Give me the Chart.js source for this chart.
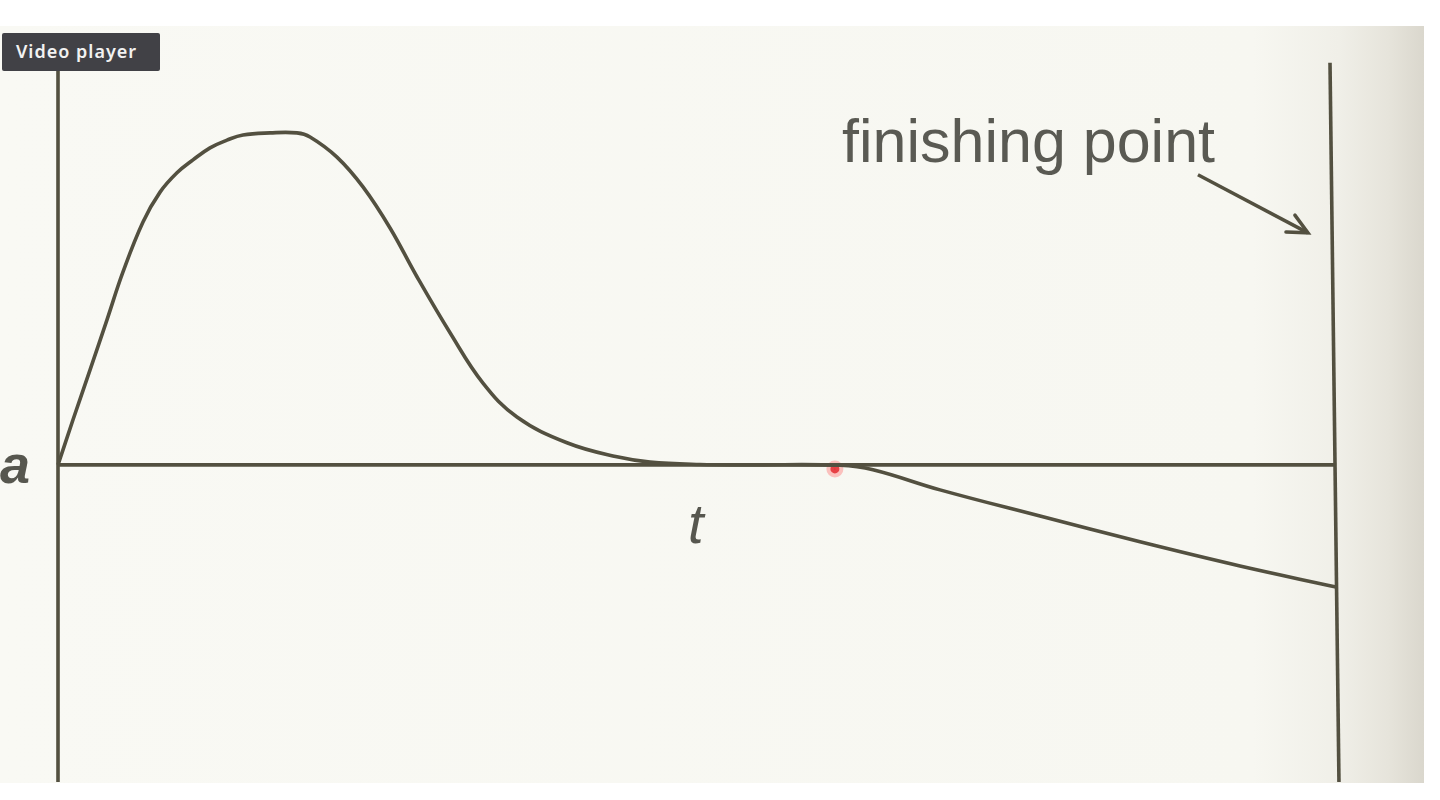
<!DOCTYPE html>
<html><head><meta charset="utf-8">
<script src="https://cdn.jsdelivr.net/npm/chart.js@4"></script>
<style>
html,body{margin:0;padding:0;background:#fff;width:1440px;height:800px;overflow:hidden}
#paper{position:absolute;left:0;top:26px;width:1424px;height:757px;background:linear-gradient(to right,#f9f9f4 0%,#f7f7f1 88%,#f0efe8 94%,#e6e4db 97.5%,#dad7cd 100%)}
#c{position:absolute;left:0;top:0}
#vp{position:absolute;left:2px;top:33px;width:158px;height:38px;background:#414146;color:#f2f2f2;font:600 18px "Noto Sans";letter-spacing:1px;line-height:36px;padding-left:14px;box-sizing:border-box;border-radius:2px}
</style></head><body>
<div id="paper"></div>
<canvas id="c" width="1440" height="800"></canvas>
<div id="vp">Video player</div>
<script>
// acceleration curve (t, a)
const curveT = [0, 1.17, 2.5, 3.82, 5.07, 6.63, 7.96, 9.28, 10.53, 11.86, 13.18, 14.43, 16.54, 18.64, 19.66, 21.76, 23.79, 25.9, 28.0, 30.58, 33.15, 35.8, 39.7, 43.6, 46.18, 50.08, 53.98, 61.0, 63.57, 68.8, 76.6, 84.4, 92.2, 99.69];
const curveA = [0, 1.12, 2.36, 3.6, 4.79, 6.03, 6.77, 7.25, 7.57, 7.87, 8.06, 8.19, 8.24, 8.24, 8.14, 7.64, 6.9, 5.88, 4.67, 3.28, 2.03, 1.19, 0.55, 0.2, 0.07, 0.01, 0, -0.01, -0.12, -0.62, -1.27, -1.91, -2.51, -3.03];
// axes
const vAxisT = [0, 0];
const vAxisA = [9.8, -7.87];
const hAxisT = [0, 99.69];
const hAxisA = [0, 0];
// finishing line
const finishT = [99.22, 99.92];
const finishA = [9.98, -7.87];
// annotation arrow
const arrowT = [88.92, 97.5];
const arrowA = [7.2, 5.76];
// cursor marker
const markerT = [60.6];
const markerA = [-0.1];

const INK = '#535040';
const pts = (ts, as) => ts.map((t, i) => ({x: t, y: as[i]}));
const lineDs = (ts, as, extra) => Object.assign({
  data: pts(ts, as), showLine: true, borderColor: INK, borderWidth: 3.6,
  pointRadius: 0, fill: false, clip: false, tension: 0
}, extra || {});

const annot = {
  id: 'annot',
  afterDatasetsDraw(chart) {
    const {ctx, scales: {x, y}} = chart;
    const n = arrowT.length;
    const x1 = x.getPixelForValue(arrowT[n-2]), y1 = y.getPixelForValue(arrowA[n-2]);
    const x2 = x.getPixelForValue(arrowT[n-1]), y2 = y.getPixelForValue(arrowA[n-1]);
    const ang = Math.atan2(y2 - y1, x2 - x1), L = 22, w = 0.45;
    ctx.save();
    ctx.strokeStyle = INK; ctx.lineWidth = 3.5; ctx.lineCap = 'round'; ctx.lineJoin = 'miter';
    ctx.beginPath();
    ctx.moveTo(x2 - L * Math.cos(ang - w), y2 - L * Math.sin(ang - w));
    ctx.lineTo(x2, y2);
    ctx.lineTo(x2 - L * Math.cos(ang + w), y2 - L * Math.sin(ang + w));
    ctx.stroke();
    const x0 = x.getPixelForValue(0), y0 = y.getPixelForValue(0);
    ctx.fillStyle = '#57574f';
    ctx.textBaseline = 'alphabetic'; ctx.textAlign = 'left';
    ctx.font = 'italic bold 54px "Liberation Sans"';
    ctx.fillText('a', x0 - 58, y0 + 18);
    ctx.font = 'italic 56px "Liberation Sans"';
    ctx.fillText('t', x0 + 630, y0 + 78);
    ctx.fillStyle = '#5a5a53';
    ctx.font = '61px "Liberation Sans"';
    ctx.fillText('finishing point', x0 + 784, 162);
    ctx.restore();
  }
};

new Chart(document.getElementById('c'), {
  type: 'scatter',
  data: {
    datasets: [
      lineDs(vAxisT, vAxisA),
      lineDs(hAxisT, hAxisA),
      lineDs(finishT, finishA),
      lineDs(curveT, curveA, {tension: 0.4}),
      lineDs(arrowT, arrowA, {borderWidth: 3.5}),
      {data: pts(markerT, markerA), showLine: false, pointRadius: 4.5, backgroundColor: '#d8232a',
       borderColor: 'rgba(255,110,110,0.4)', borderWidth: 8, clip: false}
    ]
  },
  options: {
    responsive: false, animation: false, devicePixelRatio: 1,
    layout: {padding: {left: 58, right: 100, top: 62, bottom: 18}},
    plugins: {legend: {display: false}, tooltip: {enabled: false}},
    scales: {
      x: {type: 'linear', min: 0, max: 100, display: false},
      y: {type: 'linear', min: -7.87, max: 10, display: false}
    }
  },
  plugins: [annot]
});
</script>
</body></html>
